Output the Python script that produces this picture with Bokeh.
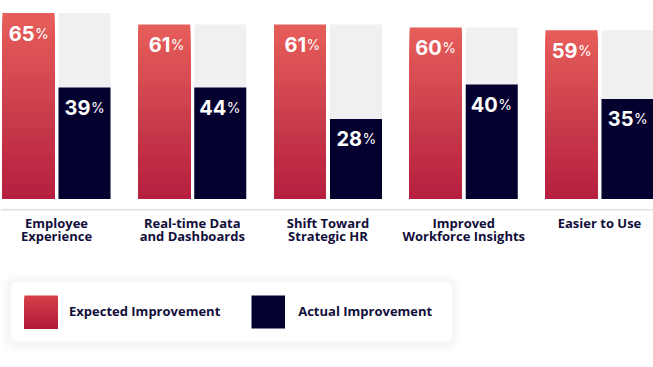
import numpy as np
from bokeh.plotting import figure
from bokeh.models import Range1d, Span, BoxAnnotation
from bokeh.core.properties import value
from bokeh.embed import file_html
from bokeh.resources import INLINE

# ---------------- data ----------------
categories = ["Employee\nExperience", "Real-time Data\nand Dashboards",
              "Shift Toward\nStrategic HR", "Improved\nWorkforce Insights",
              "Easier to Use"]
expected = [65, 61, 61, 60, 59]
actual = [39, 44, 28, 40, 35]          # printed values
actual_bar = [39, 39, 28, 40, 35]      # bar heights as drawn in the reference
series_names = ["Expected Improvement", "Actual Improvement"]

# ---------------- style ----------------
NAVY = "#04012f"
TEXT = "#110e3a"
GRAY_BG = "#f0f0f3"
RED_TOP = (230, 94, 90)
RED_BOT = (179, 30, 62)
LEG_TOP = (214, 64, 73)
LEG_BOT = (177, 23, 57)

W, H = 653, 367
BASE = 198.5        # page px of the zero line
S = 2.86            # px per percent
PXU = 135.75        # px per category step
X0 = -56 / PXU
SPAN_X = W / PXU
TDY = -6            # text vertical correction (px)


def yd(py):
    return (BASE - py) / S


def xd(px):
    return px / PXU + X0


def hexc(c):
    return "#%02x%02x%02x" % tuple(int(round(v)) for v in c)


def mix(a, b, t):
    return tuple(a[i] + (b[i] - a[i]) * t for i in range(3))


p = figure(width=W, height=H, x_range=Range1d(X0, X0 + SPAN_X),
           y_range=Range1d(yd(H), yd(0)), output_backend="svg",
           toolbar_location=None, min_border=0,
           x_axis_location=None, y_axis_location=None)
p.grid.visible = False
p.outline_line_color = None
p.background_fill_color = "white"
p.border_fill_color = "white"

x = np.arange(len(categories))
hw = 26 / PXU
off = 28 / PXU

# gray background behind actual bars (up to expected)
p.quad(left=x + off - hw, right=x + off + hw, bottom=0, top=expected,
       fill_color=GRAY_BG, line_color=None)
# actual bars
p.quad(left=x + off - hw, right=x + off + hw, bottom=0, top=actual_bar,
       fill_color=NAVY, line_color=None)

# expected bars with vertical gradient (stacked overlapping slices)
N = 50
L, R, T, C = [], [], [], []
for k in range(N):
    f = (N - k) / N
    for i, v in enumerate(expected):
        L.append(i - off - hw)
        R.append(i - off + hw)
        T.append(v * f)
        C.append(hexc(mix(RED_BOT, RED_TOP, f)))
p.quad(left=L, right=R, bottom=0, top=T, fill_color=C, line_color=None)

# value labels
num_font = value("Inter")
for xs, vals, tops in ((x - off, expected, expected), (x + off, actual, actual_bar)):
    ys = [t - 26 / S for t in tops]
    p.text(x=xs, y=ys, text=[str(v) for v in vals], text_align="right",
           text_baseline="alphabetic", x_offset=6, y_offset=TDY, text_font=num_font,
           text_font_style="bold", text_font_size="20px", text_color="white")
    p.text(x=xs, y=ys, text=["%"] * len(vals), text_align="left",
           text_baseline="alphabetic", x_offset=6.5, y_offset=TDY, text_font=num_font,
           text_font_style="normal", text_font_size="14px", text_color="white")

# baseline rule
p.add_layout(Span(location=yd(209.3), dimension="width",
                  line_color="#d3d1db", line_width=1))

# category labels
lines = [c.split("\n") for c in categories]
line1 = [l[0] for l in lines]
line2 = [l[1] if len(l) > 1 else "" for l in lines]
lab_font = value("Open Sans")
for txt, py in ((line1, 228.3), (line2, 241.7)):
    p.text(x=x, y=[yd(py)] * len(x), text=txt, text_align="center",
           text_baseline="alphabetic", y_offset=TDY, text_font=lab_font,
           text_font_style="bold", text_font_size="13px", text_color=TEXT)

# legend box with soft shadow
bl, br, bt, bb = 10.5, 451.5, 281.5, 341
for d in range(10, 0, -1):
    p.add_layout(BoxAnnotation(left=xd(bl - d), right=xd(br + d),
                               top=yd(bt - d + 1), bottom=yd(bb + d + 1),
                               fill_color="#4a4a66", fill_alpha=0.009,
                               line_color=None, border_radius=5 + d,
                               level="underlay"))
p.add_layout(BoxAnnotation(left=xd(bl), right=xd(br), top=yd(bt), bottom=yd(bb),
                           fill_color="white", fill_alpha=1, line_color=None,
                           border_radius=5, level="underlay"))

# legend swatches
sq_top, sq_bot = 295, 328
NL = 30
L, R, B, T, C = [], [], [], [], []
for k in range(NL):
    f = (NL - k) / NL
    L.append(xd(24)); R.append(xd(57.3))
    B.append(yd(sq_bot)); T.append(yd(sq_bot - (sq_bot - sq_top) * f))
    C.append(hexc(mix(LEG_BOT, LEG_TOP, f)))
p.quad(left=L, right=R, bottom=B, top=T, fill_color=C, line_color=None)
p.quad(left=[xd(251)], right=[xd(284.5)], bottom=[yd(sq_bot)], top=[yd(sq_top)],
       fill_color=NAVY, line_color=None)

p.text(x=[xd(68.5), xd(297.7)], y=[yd(316.6)] * 2, text=series_names,
       text_align="left", text_baseline="alphabetic", y_offset=TDY, text_font=lab_font,
       text_font_style="bold", text_font_size="13px", text_color=TEXT)

open("out.html", "w").write(file_html(p, INLINE))
